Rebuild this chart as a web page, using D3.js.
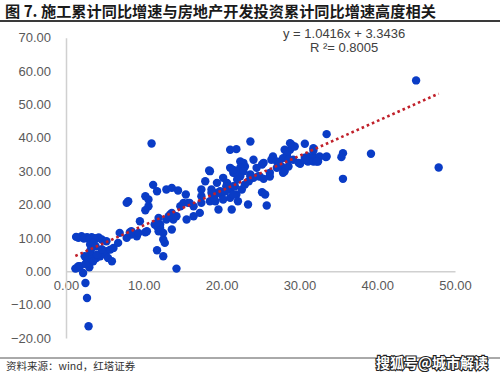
<!DOCTYPE html>
<html>
<head>
<meta charset="utf-8">
<script src="https://cdn.jsdelivr.net/npm/d3@7"></script>
<style>
  body { margin: 0; background: #fff; }
  svg { display: block; font-family: "Liberation Sans", Arial, sans-serif; }
</style>
</head>
<body>
<svg id="chart" width="500" height="377"></svg>
<script>
// Data: [x, y] pairs (累计同比, %)
var points = [
  [1.2,0.8],[1.6,1.5],[1.4,1.0],[1.8,1.5],[2.2,-0.5],[2.5,-3.5],[2.7,-8.0],[2.9,-16.5],
  [1.6,10.0],[2.0,10.5],[2.7,10.2],[3.3,10.2],[3.9,9.8],[4.6,9.5],[5.2,9.0],[1.3,10.3],
  [2.3,9.8],[3.0,9.6],[4.2,10.1],[3.6,9.9],
  [2.9,2.0],[2.7,3.0],[3.1,4.0],[3.3,5.0],[3.1,6.0],[3.3,7.0],[3.1,8.0],[3.5,8.5],
  [2.4,4.5],[3.0,1.2],[2.5,2.2],[3.5,3.0],[3.9,4.0],[4.4,4.5],[4.8,5.5],[5.2,6.0],
  [5.7,6.5],[6.1,7.0],[5.4,4.0],[5.9,3.0],[6.7,8.5],[4.0,5.0],[4.6,6.6],[3.8,7.5],
  [6.9,11.5],[7.8,10.0],[8.4,11.0],[9.1,10.5],[9.3,11.5],[8.2,11.6],[10.2,11.7],[10.4,12.0],
  [11.9,12.0],[11.7,6.3],[12.5,4.5],[12.7,8.5],[12.5,9.5],[14.2,0.8],[11.7,13.5],[13.6,12.5],
  [12.1,13.0],[12.1,14.0],[11.4,14.0],[11.7,14.5],[12.5,11.5],[9.5,15.0],[8.4,12.0],
  [11.0,38.3],[11.2,25.9],[11.7,24.0],[12.9,24.5],[13.6,25.0],[14.4,24.2],[15.4,23.0],
  [8.0,21.0],[7.8,20.5],[10.2,22.5],[10.6,21.5],[10.6,19.5],[10.2,18.3],[15.7,20.5],[14.7,19.5],
  [13.4,17.0],[14.2,16.5],[12.9,15.5],[13.8,15.5],[15.5,15.5],[13.6,17.5],[13.8,16.0],[13.2,16.5],
  [16.4,16.5],[17.2,17.5],[11.9,16.0],[15.1,20.5],[15.9,20.5],[16.4,19.5],[17.4,20.5],
  [17.4,24.5],[17.9,27.0],[18.5,30.0],[19.4,26.5],[20.2,28.0],[20.7,26.5],[21.5,29.5],[22.1,30.0],
  [22.4,28.5],[23.7,28.5],[24.7,28.5],[17.4,22.5],[18.7,23.5],[19.4,23.5],[20.0,23.0],[18.5,21.0],
  [19.2,21.0],[20.2,21.5],[21.1,22.0],[21.9,23.0],[22.1,21.0],[21.1,24.5],[23.4,20.0],[19.6,18.5],
  [21.3,18.5],[20.6,25.4],[19.8,24.0],[18.7,24.5],[18.4,30.2],[20.5,24.0],[21.5,25.5],[22.6,24.5],
  [19.0,22.2],
  [33.5,41.1],[23.7,38.9],[21.9,36.6],[21.1,36.4],[29.0,37.9],[28.8,36.4],[29.4,37.4],[30.7,38.2],
  [31.8,36.9],[28.1,36.4],[28.4,34.9],[26.6,34.4],[26.4,33.4],[27.1,32.9],[27.9,33.9],[28.6,33.4],
  [29.2,33.4],[29.9,32.5],[30.7,34.0],[31.1,34.4],[31.8,34.4],[32.6,34.4],[33.5,34.4],[31.1,32.9],
  [31.8,32.9],[32.4,32.9],[35.6,35.4],[35.4,34.2],[35.6,27.7],[25.4,32.5],[25.2,32.0],[22.4,32.9],
  [22.8,32.5],[23.0,31.4],[22.4,30.4],[21.1,31.0],[21.7,29.5],[24.1,33.4],[24.1,28.0],[24.9,28.4],
  [25.4,27.7],[23.7,29.0],[26.2,29.5],[26.2,28.4],[27.1,31.0],[27.7,31.4],[28.1,30.0],[28.6,31.4],
  [27.9,29.5],[25.2,23.7],[25.6,23.0],[25.8,19.7],[21.5,23.0],[21.7,25.5],[21.5,30.4],[22.4,31.0],
  [22.8,30.0],[28.8,38.4],[30.1,32.2],[30.7,33.4],[32.2,32.9],[33.4,34.2],[45.0,57.2],[39.2,35.2],
  [47.9,31.1],[31.8,36.2],[27.4,32.0],[23.5,27.0],[24.5,31.0],[22.0,27.5],[23.0,26.0]
];

var xTicks = [0, 10, 20, 30, 40, 50];
var yTicks = [-20, -10, 0, 10, 20, 30, 40, 50, 60, 70];

// Linear trend shown on the chart
var slope = 1.0416;
var intercept = 3.3436;
var equationText = "y = 1.0416x + 3.3436";
var r2Text = "R \u00B2= 0.8005";

var titleText = "图 7. 施工累计同比增速与房地产开发投资累计同比增速高度相关";
var sourceText = "资料来源：wind，红塔证券";
var watermarkText = "搜狐号@城市解读";

var svg = d3.select("#chart");

// Scales
var x = d3.scaleLinear().domain([0, 50]).range([66, 455]);
var y = d3.scaleLinear().domain([-20, 70]).range([338, 37.7]);
var fmt = d3.format(".2f");

// Title + rules
svg.append("text")
  .attr("x", 5).attr("y", 16.5)
  .attr("font-family", "'Noto Sans CJK SC', sans-serif")
  .attr("font-weight", 700)
  .attr("font-size", 15.2)
  .attr("fill", "#1a1a1a")
  .text(titleText);

svg.append("line")
  .attr("x1", 0).attr("x2", 500).attr("y1", 21).attr("y2", 21)
  .attr("stroke", "#3a3a3a").attr("stroke-width", 2);

svg.append("line")
  .attr("x1", 0).attr("x2", 500).attr("y1", 358).attr("y2", 358)
  .attr("stroke", "#555").attr("stroke-width", 1);

// Axes
var xAxis = svg.append("g")
  .attr("transform", "translate(0," + y(0) + ")")
  .call(d3.axisBottom(x).tickValues(xTicks).tickFormat(fmt).tickSize(0).tickPadding(10));

var yAxis = svg.append("g")
  .attr("transform", "translate(" + x(0) + ",0)")
  .call(d3.axisLeft(y).tickValues(yTicks).tickFormat(fmt).tickSize(0).tickPadding(15));

[xAxis, yAxis].forEach(function (g) {
  g.select(".domain").attr("stroke", "#d0d0d0").attr("stroke-width", 1.5);
  g.selectAll("text")
    .attr("font-family", "'Liberation Sans', Arial, sans-serif")
    .attr("font-size", 13)
    .attr("fill", "#595959");
});

// Points
svg.append("g")
  .selectAll("circle")
  .data(points)
  .enter()
  .append("circle")
  .attr("cx", (d) => x(d[0]))
  .attr("cy", (d) => y(d[1]))
  .attr("r", 4.2)
  .attr("fill", "#0a3cc6");

// Trend line
var xExt = d3.extent(points, (d) => d[0]);
var line = d3.line()
  .x((d) => x(d))
  .y((d) => y(slope * d + intercept));

svg.append("path")
  .attr("d", line(xExt))
  .attr("fill", "none")
  .attr("stroke", "#c0202a")
  .attr("stroke-width", 2.6)
  .attr("stroke-dasharray", "2.6,3");

// Equation
svg.append("text")
  .attr("x", 283).attr("y", 37.5)
  .attr("font-size", 13).attr("fill", "#404040")
  .text(equationText);

svg.append("text")
  .attr("x", 310).attr("y", 52)
  .attr("font-size", 13).attr("fill", "#404040")
  .text(r2Text);

// Footer
svg.append("text")
  .attr("x", 6).attr("y", 370)
  .attr("font-family", "'Noto Sans CJK SC', sans-serif")
  .attr("font-size", 10.5)
  .attr("fill", "#333")
  .text(sourceText);

svg.append("text")
  .attr("x", 488).attr("y", 368)
  .attr("text-anchor", "end")
  .attr("font-family", "'Noto Sans CJK SC', sans-serif")
  .attr("font-weight", 700)
  .attr("font-size", 14)
  .attr("fill", "#fff")
  .attr("stroke", "#222")
  .attr("stroke-width", 2.2)
  .attr("paint-order", "stroke")
  .text(watermarkText);
</script>
</body>
</html>
